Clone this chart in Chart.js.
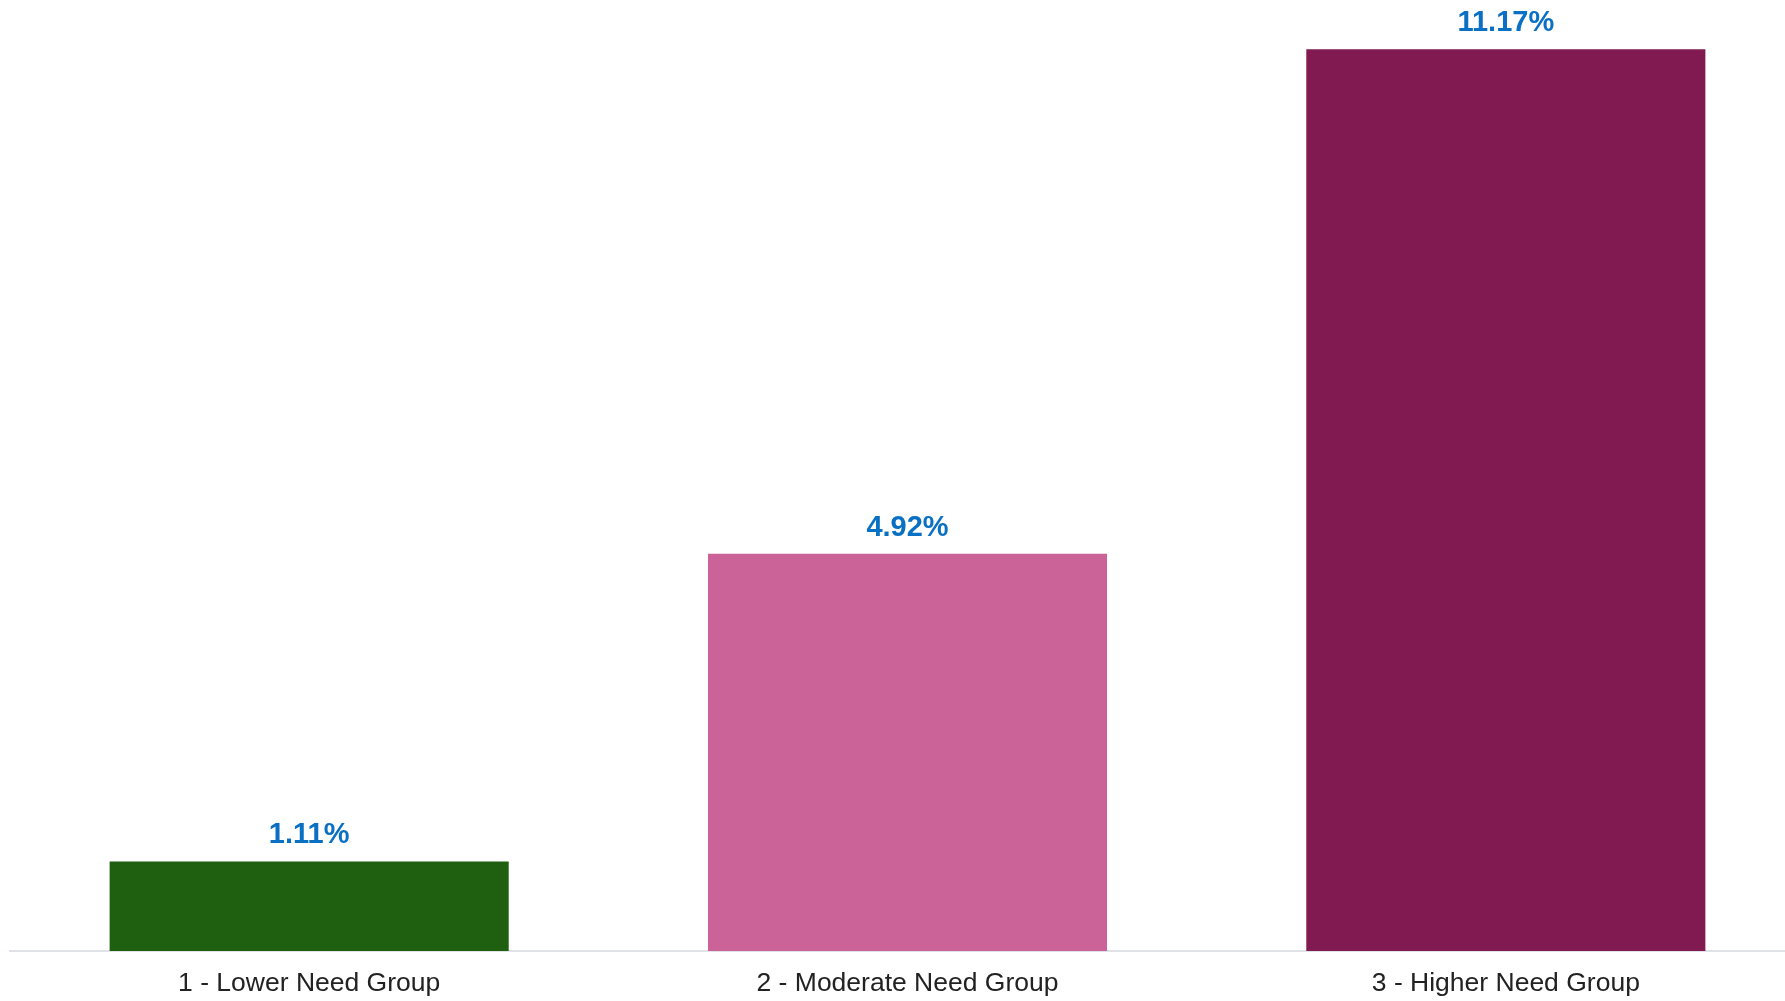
<!DOCTYPE html>
<html>
<head>
<meta charset="utf-8">
<title>Need Groups</title>
<script src="https://cdn.jsdelivr.net/npm/chart.js@4.4.1/dist/chart.umd.min.js"></script>
<style>
  html, body { margin: 0; padding: 0; background: #fff; overflow: hidden; }
  canvas { display: block; }
</style>
</head>
<body>
<canvas id="needChart" width="1805" height="1001"></canvas>
<script>
const groups = ['1 - Lower Need Group', '2 - Moderate Need Group', '3 - Higher Need Group'];
const rates = [1.11, 4.92, 11.17];
const barColors = ['#1f6010', '#cb6398', '#821a52'];

// writes the percentage above each bar
const valueLabels = {
    id: 'valueLabels',
    afterDatasetsDraw(chart) {
        const ctx = chart.ctx;
        const meta = chart.getDatasetMeta(0);
        ctx.save();
        ctx.font = 'bold 29px "Liberation Sans", Arial, sans-serif';
        ctx.fillStyle = '#0a70c3';
        ctx.textAlign = 'center';
        ctx.textBaseline = 'alphabetic';
        meta.data.forEach((bar, i) => {
            ctx.fillText(rates[i].toFixed(2) + '%', bar.x, bar.y - 18);
        });
        ctx.restore();
    }
};

new Chart(document.getElementById('needChart'), {
    type: 'bar',
    data: {
        labels: groups,
        datasets: [{
            data: rates,
            backgroundColor: barColors,
            borderWidth: 0,
            categoryPercentage: 1,
            barPercentage: 0.667
        }]
    },
    options: {
        responsive: false,
        animation: false,
        layout: { padding: { left: 10, right: 0, top: 0, bottom: 0 } },
        plugins: {
            legend: { display: false },
            tooltip: { enabled: false }
        },
        scales: {
            y: {
                display: false,
                min: 0,
                max: 11.78
            },
            x: {
                grid: { display: false, drawTicks: false },
                border: { display: true, color: '#dfe3e8', width: 2 },
                ticks: {
                    padding: 17,
                    color: '#222222',
                    font: { family: '"Liberation Sans", Arial, sans-serif', size: 26.5 }
                },
                afterFit(scale) { scale.height = 50; }
            }
        }
    },
    plugins: [valueLabels]
});
</script>
</body>
</html>
